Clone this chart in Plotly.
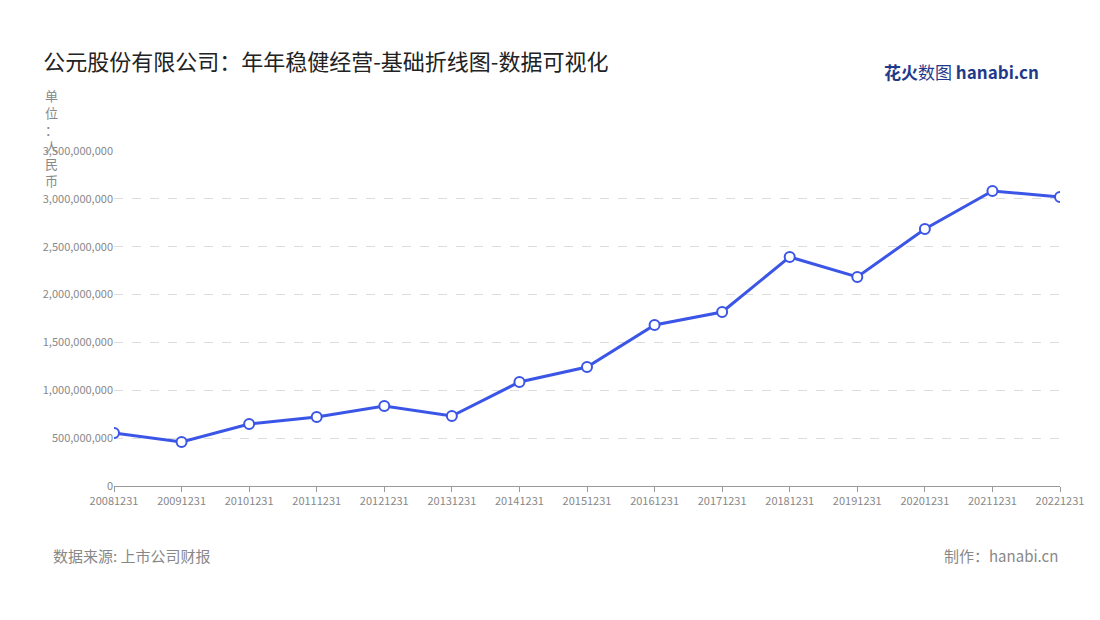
import plotly.graph_objects as go

years = ["20081231", "20091231", "20101231", "20111231", "20121231", "20131231", "20141231",
         "20151231", "20161231", "20171231", "20181231", "20191231", "20201231", "20211231", "20221231"]
revenue = [554e6, 460e6, 648e6, 721e6, 836e6, 731e6, 1087e6, 1243e6, 1682e6, 1818e6,
           2393e6, 2184e6, 2685e6, 3082e6, 3019e6]
y_ticks = [0, 5e8, 1e9, 1.5e9, 2e9, 2.5e9, 3e9, 3.5e9]

font = "Noto Sans CJK SC"
fig = go.Figure(go.Scatter(
    x=years, y=revenue, mode="lines+markers",
    line=dict(color="#3b55e6", width=3),
    marker=dict(size=10, color="white", line=dict(color="#3b55e6", width=2)),
))

fig.update_layout(
    width=1100, height=620, plot_bgcolor="white", paper_bgcolor="white",
    margin=dict(l=106, r=48, t=143, b=142),
    font=dict(family=font, color="#888"),
    showlegend=False,
    title=dict(text="公元股份有限公司：年年稳健经营-基础折线图-数据可视化", x=0.032, y=0.925,
               font=dict(size=22, color="#222")),
    xaxis=dict(type="category", showgrid=False, showline=True, linecolor="#999",
               ticks="outside", tickcolor="#999", tickfont=dict(size=11, color="#888"),
               range=[0, 14]),
    yaxis=dict(range=[0, 3.5e9], tickvals=y_ticks, tickformat=",.0f",
               gridcolor="#ddd", griddash="dash", zeroline=False,
               tickfont=dict(size=11, color="#888")),
)
fig.add_annotation(text="单<br>位<br>：<br>人<br>民<br>币", xref="paper", yref="paper",
                   x=-0.066, y=1.2, xanchor="center", yanchor="top", showarrow=False,
                   font=dict(size=13, color="#888"))
fig.add_annotation(text="数据来源: 上市公司财报", xref="paper", yref="paper",
                   x=-0.067, y=-0.245, xanchor="left", showarrow=False,
                   font=dict(size=15, color="#888"))
fig.add_annotation(text="制作：hanabi.cn", xref="paper", yref="paper",
                   x=1.0, y=-0.245, xanchor="right", showarrow=False,
                   font=dict(size=15, color="#888"))
fig.add_annotation(text="<b>花火</b>数图 <b>hanabi.cn</b>", xref="paper", yref="paper",
                   x=0.98, y=1.28, xanchor="right", showarrow=False,
                   font=dict(size=17, color="#1f3a8a"))

fig.write_html("out.html")
